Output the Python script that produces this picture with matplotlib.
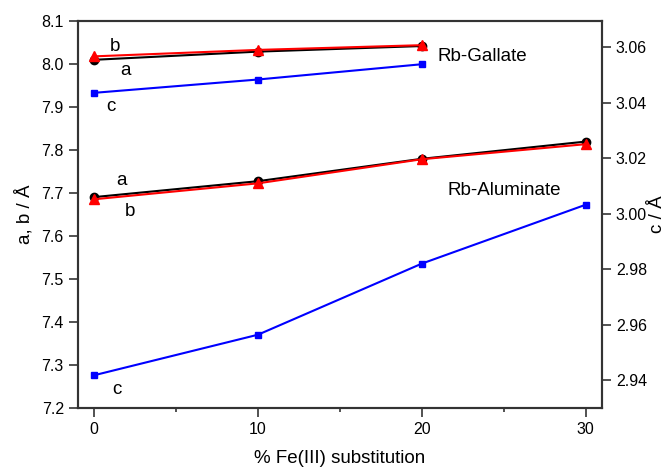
import matplotlib
matplotlib.use("Agg")
import matplotlib.pyplot as plt
from matplotlib.ticker import MultipleLocator

plt.rcParams['font.family'] = ['Liberation Sans', 'DejaVu Sans']

# Fe(III) substitution (%)
x_gal = [0, 10, 20]
x_alu = [0, 10, 20, 30]

# Rb-Gallate lattice parameters
gal_a = [8.009, 8.028, 8.041]
gal_b = [8.017, 8.032, 8.043]
gal_c = [3.0435, 3.0483, 3.0538]

# Rb-Aluminate lattice parameters
alu_a = [7.690, 7.727, 7.779, 7.819]
alu_b = [7.685, 7.722, 7.778, 7.813]
alu_c = [2.9418, 2.9564, 2.9820, 3.0032]

fig = plt.figure(figsize=(6.7, 4.69), dpi=100)
ax = fig.add_axes([0.116, 0.130, 0.7825, 0.826])
ax2 = ax.twinx()

spine_col = '#333333'
lw = 1.5

# a (black circles) then b (red triangles) on left axis
ax.plot(x_gal, gal_a, color='black', marker='o', ms=6, lw=lw, zorder=3)
ax.plot(x_gal, gal_b, color='red', marker='^', ms=6.5, lw=lw, zorder=4)
ax.plot(x_alu, alu_a, color='black', marker='o', ms=6, lw=lw, zorder=3)
ax.plot(x_alu, alu_b, color='red', marker='^', ms=6.5, lw=lw, zorder=4)

# c (blue squares) on right axis
ax2.plot(x_gal, gal_c, color='blue', marker='s', ms=5, lw=lw)
ax2.plot(x_alu, alu_c, color='blue', marker='s', ms=5, lw=lw)

ax.set_xlim(-1, 31)
ax.set_ylim(7.2, 8.1)
ax2.set_ylim(2.930, 3.0695)

ax.xaxis.set_major_locator(MultipleLocator(10))
ax.xaxis.set_minor_locator(MultipleLocator(5))
ax.yaxis.set_major_locator(MultipleLocator(0.1))
ax2.yaxis.set_major_locator(MultipleLocator(0.02))

fs_tick = 11.5
fs_lab = 13.5
ax.tick_params(axis='both', which='major', direction='out', length=6.5, width=1.2,
               color=spine_col, labelsize=fs_tick, top=False, pad=3.5)
ax.tick_params(axis='x', which='minor', direction='out', length=3, width=1.2,
               color=spine_col, top=False)
ax2.tick_params(axis='y', which='major', direction='out', length=6.5, width=1.2,
                color=spine_col, labelsize=fs_tick, pad=3.5)

for a_ in (ax, ax2):
    for s in a_.spines.values():
        s.set_color(spine_col)
        s.set_linewidth(lw)

ax.set_yticklabels([f"{v:.1f}" for v in ax.get_yticks()])
ax2.set_yticklabels([f"{v:.2f}" for v in ax2.get_yticks()])

ax.set_xlabel('% Fe(III) substitution', fontsize=fs_lab, labelpad=9.5)
ax.set_ylabel('a, b / Å', fontsize=fs_lab, labelpad=6)
ax2.set_ylabel('c / Å', fontsize=fs_lab, rotation=90, labelpad=1.5)

# annotations
ax.text(1.27, 8.039, 'b', fontsize=fs_lab, ha='center', va='center')
ax.text(1.94, 7.983, 'a', fontsize=fs_lab, ha='center', va='center')
ax.text(1.0, 7.900, 'c', fontsize=fs_lab, ha='center', va='center')
ax.text(1.67, 7.729, 'a', fontsize=fs_lab, ha='center', va='center')
ax.text(2.2, 7.656, 'b', fontsize=fs_lab, ha='center', va='center')
ax.text(1.39, 7.242, 'c', fontsize=fs_lab, ha='center', va='center')
ax.text(20.98, 8.0175, 'Rb-Gallate', fontsize=fs_lab, ha='left', va='center')
ax.text(21.55, 7.706, 'Rb-Aluminate', fontsize=fs_lab, ha='left', va='center')

fig.savefig('out.png', dpi=100)
